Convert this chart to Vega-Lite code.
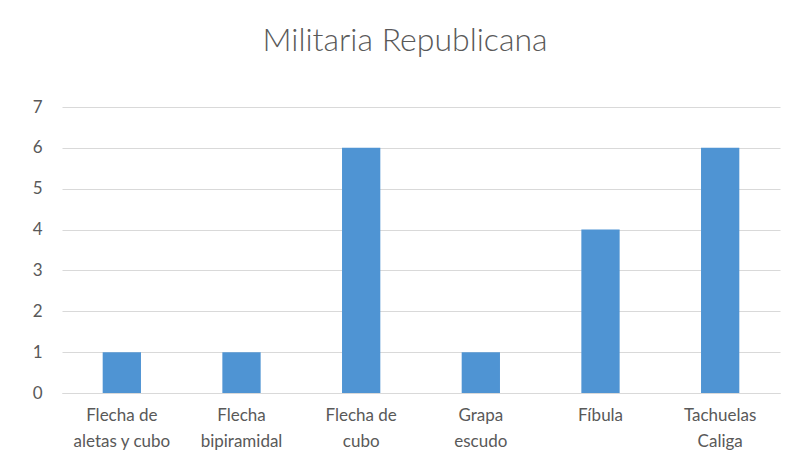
{
  "$schema": "https://vega.github.io/schema/vega-lite/v6.json",
  "width": 718,
  "height": 286,
  "autosize": {"type": "none"},
  "padding": {"left": 62, "top": 107, "right": 14, "bottom": 73},
  "background": "white",
  "title": {
    "text": "Militaria Republicana",
    "fontSize": 32,
    "font": "Lato",
    "fontWeight": 300,
    "color": "#595959",
    "anchor": "middle",
    "dx": -16,
    "offset": 40
  },
  "data": {
    "values": [
      {"categoria": "Flecha de|aletas y cubo", "valor": 1},
      {"categoria": "Flecha|bipiramidal", "valor": 1},
      {"categoria": "Flecha de|cubo", "valor": 6},
      {"categoria": "Grapa|escudo", "valor": 1},
      {"categoria": "Fíbula", "valor": 4},
      {"categoria": "Tachuelas|Caliga", "valor": 6}
    ]
  },
  "mark": {"type": "bar", "color": "#4F94D3"},
  "encoding": {
    "x": {
      "field": "categoria",
      "type": "nominal",
      "sort": null,
      "scale": {"paddingInner": 0.68, "paddingOuter": 0.34},
      "axis": {
        "title": null,
        "labelAngle": 0,
        "labelExpr": "split(datum.value, '|')",
        "labelFont": "Lato",
        "labelFontSize": 17,
        "labelColor": "#595959",
        "labelPadding": 14,
        "labelLineHeight": 26,
        "ticks": false,
        "domainColor": "#d9d9d9",
        "grid": false
      }
    },
    "y": {
      "field": "valor",
      "type": "quantitative",
      "scale": {"domain": [0, 7], "nice": false},
      "axis": {
        "title": null,
        "values": [0, 1, 2, 3, 4, 5, 6, 7],
        "labelOverlap": false,
        "labelFont": "Lato",
        "labelFontSize": 17,
        "labelColor": "#595959",
        "labelPadding": 20,
        "ticks": false,
        "domain": false,
        "grid": true,
        "gridColor": "#d9d9d9"
      }
    }
  },
  "config": {"view": {"stroke": null}}
}
